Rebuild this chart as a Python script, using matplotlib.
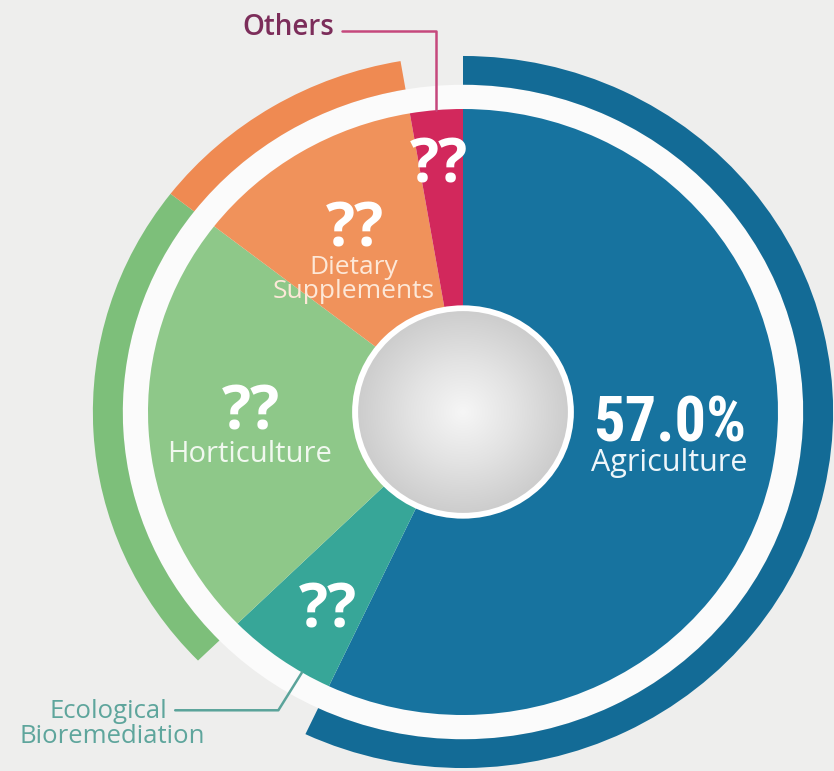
import numpy as np
import matplotlib.pyplot as plt
from matplotlib.patches import Circle
from matplotlib.colors import LinearSegmentedColormap

# fatias, sentido horário a partir do topo
sectors = ['Agriculture', 'Ecological Bioremediation', 'Horticulture', 'Dietary\nSupplements', 'Others']
shares = [57.0, 5.7, 22.8, 11.8, 2.7]
value_labels = ['57.0%', '??', '??', '??', '??']
has_ring = [True, False, True, True, False]

slice_colors = ['#17739f', '#37a698', '#8ec889', '#f0925b', '#d2285c']
ring_colors = ['#136b96', '#37a698', '#7dbf7a', '#ef8a52', '#d2285c']
bg = '#eeeeed'

fig = plt.figure(figsize=(8.34, 7.71), dpi=100, facecolor=bg)
ax = fig.add_axes([0, 0, 1, 1])
ax.set_facecolor(bg)

# halo branco atras da pizza
ax.add_patch(Circle((0, 0), 1.08, color='#fbfbfb', lw=0, zorder=0))

wedges, _ = ax.pie(shares, colors=slice_colors, startangle=90, counterclock=False,
                   radius=1.0, wedgeprops=dict(linewidth=0))

# anel externo so para algumas fatias
ring_cols = [c if r else (0, 0, 0, 0) for c, r in zip(ring_colors, has_ring)]
ax.pie(shares, colors=ring_cols, startangle=90, counterclock=False, radius=1.175,
       wedgeprops=dict(width=0.095, linewidth=0))

# circulo central com degrade
ax.add_patch(Circle((0, 0), 0.352, color='white', lw=0, zorder=3))
g = np.linspace(-1, 1, 300)
xx, yy = np.meshgrid(g, g)
rr = np.sqrt(xx**2 + yy**2)
hub = LinearSegmentedColormap.from_list('hub', ['#f6f6f6', '#e3e3e3', '#cdcdcd'])
img = ax.imshow(rr, cmap=hub, vmin=0, vmax=1, extent=(-0.333, 0.333, -0.333, 0.333),
                zorder=4, aspect='auto', interpolation='bilinear')
img.set_clip_path(Circle((0, 0), 0.333, transform=ax.transData))

# textos dentro das fatias (posicao = linha de base da ultima linha)
value_pos = [(0.657, -0.099), (-0.429, -0.710), (-0.673, -0.059), (-0.343, 0.545), (-0.076, 0.759)]
name_pos = [(0.655, -0.195), None, (-0.676, -0.165), (-0.346, 0.376), None]
name_colors = ['#eef6fa', None, '#f1f8ef', '#fde8d8', None]
name_sizes = [22, None, 21, 19, None]

for i, lab in enumerate(value_labels):
    x, y = value_pos[i]
    if i == 0:
        ax.text(x, y, lab, ha='center', va='baseline', fontsize=45, fontweight='bold',
                fontstretch='condensed', family=['Roboto Condensed', 'Roboto'],
                color='white', zorder=6)
    else:
        ax.text(x, y, lab, ha='center', va='baseline', fontsize=44, fontweight='bold',
                family='Open Sans', color='white', zorder=6)
    if name_pos[i] is not None:
        nx, ny = name_pos[i]
        ax.text(nx, ny, sectors[i], ha='center', va='baseline', fontsize=name_sizes[i],
                family='Open Sans', color=name_colors[i], linespacing=0.95,
                multialignment='center', zorder=6)

# rotulos externos com linha guia
w = wedges[4]
a = np.deg2rad((w.theta1 + w.theta2) / 2)
ax.annotate(sectors[4], xy=(np.cos(a), np.sin(a)), xytext=(-0.556, 1.244),
            ha='center', va='baseline', fontsize=20, family='Open Sans', fontweight='semibold',
            color='#7c2d5a',
            arrowprops=dict(arrowstyle='-', color='#c5487d', lw=1.8, relpos=(1, 0.375),
                            connectionstyle='angle,angleA=0,angleB=90,rad=0',
                            shrinkA=4, shrinkB=0))

w = wedges[1]
a = np.deg2rad(w.theta1 + 0.73 * (w.theta2 - w.theta1))
eco1, eco2 = sectors[1].split()
ax.annotate(eco1, xy=(np.cos(a), np.sin(a)), xytext=(-1.127, -1.010),
            ha='center', va='baseline', fontsize=18.5, family='Open Sans', color='#5ea59c',
            arrowprops=dict(arrowstyle='-', color='#5aa39a', lw=1.8, relpos=(1, 0.55),
                            connectionstyle='angle,angleA=0,angleB=58,rad=0',
                            shrinkA=4, shrinkB=0))
ax.text(-1.114, -1.092, eco2, ha='center', va='baseline', fontsize=18.5,
        family='Open Sans', color='#5ea59c')

# escala em pixels: 315 px por unidade em x, 303 em y, centro em (463, 412)
ax.set_aspect('auto')
ax.set_xlim(-463 / 315, (834 - 463) / 315)
ax.set_ylim(-(771 - 412) / 303, 412 / 303)
ax.axis('off')

plt.savefig('out.png', dpi=100, facecolor=bg)
